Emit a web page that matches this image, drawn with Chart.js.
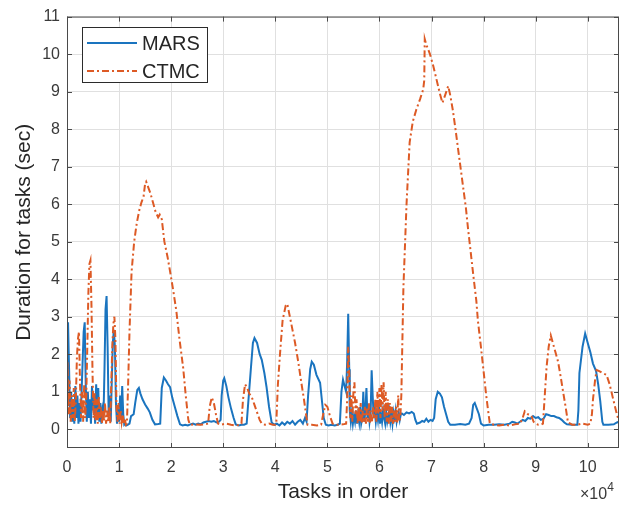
<!DOCTYPE html>
<html><head><meta charset="utf-8">
<script src="https://cdn.jsdelivr.net/npm/chart.js@4.4.0/dist/chart.umd.min.js"></script>
<style>html,body{margin:0;padding:0;background:#fff;}canvas{display:block}</style>
</head><body>
<canvas id="c" width="632" height="509"></canvas>
<script>
// x values are in units of 10^4 tasks
const xTicks = [0,1,2,3,4,5,6,7,8,9,10];
const yTicks = [0,1,2,3,4,5,6,7,8,9,10,11];
const seriesNames = ['MARS','CTMC'];
const xLabel = 'Tasks in order';
const yLabel = 'Duration for tasks (sec)';

const MARS = [
[0,0.6],[0.02,2.85],[0.04,1.6],[0.06,0.3],[0.08,1.0],[0.1,0.2],[0.12,0.8],[0.14,0.15],[0.16,1.15],[0.18,0.3],
[0.2,0.9],[0.22,0.15],[0.24,0.7],[0.26,0.2],[0.28,1.0],[0.3,1.8],[0.32,2.6],[0.34,2.85],[0.36,1.2],[0.38,0.2],
[0.4,1.0],[0.42,0.3],[0.44,0.8],[0.46,0.15],[0.48,1.15],[0.5,0.5],[0.52,0.9],[0.54,0.15],[0.56,1.2],[0.58,0.4],
[0.6,1.1],[0.62,0.2],[0.64,0.7],[0.66,0.15],[0.68,0.5],[0.7,0.3],[0.72,1.6],[0.74,3.2],[0.76,3.55],[0.78,2.2],
[0.8,0.4],[0.82,0.9],[0.84,0.2],[0.86,1.3],[0.88,2.3],[0.9,2.65],[0.92,2.2],[0.94,0.7],[0.96,0.15],[0.98,0.6],
[1.0,0.2],[1.02,0.9],[1.04,0.3],[1.06,1.15],[1.08,0.4],[1.1,0.12],[1.12,0.15],[1.14,0.1],[1.17,0.12],[1.2,0.15],
[1.23,0.35],[1.28,0.4],[1.31,0.7],[1.35,1.05],[1.38,1.1],[1.41,0.95],[1.45,0.8],[1.5,0.66],[1.55,0.55],[1.59,0.45],
[1.64,0.25],[1.69,0.13],[1.75,0.14],[1.79,0.15],[1.82,1.1],[1.86,1.38],[1.9,1.3],[1.94,1.2],[1.98,1.12],[2.02,0.85],
[2.07,0.6],[2.12,0.35],[2.17,0.13],[2.22,0.1],[2.27,0.12],[2.32,0.1],[2.37,0.13],[2.42,0.15],[2.47,0.12],[2.52,0.15],
[2.57,0.13],[2.62,0.18],[2.67,0.2],[2.72,0.22],[2.77,0.2],[2.82,0.22],[2.87,0.18],[2.92,0.2],[2.95,0.25],[2.97,0.9],
[3.0,1.3],[3.02,1.36],[3.06,1.15],[3.1,0.85],[3.15,0.55],[3.2,0.3],[3.24,0.13],[3.3,0.1],[3.35,0.12],[3.4,0.12],
[3.45,0.15],[3.48,0.7],[3.53,1.6],[3.57,2.3],[3.6,2.43],[3.65,2.3],[3.7,2.0],[3.74,1.85],[3.79,1.5],[3.83,1.14],
[3.88,0.6],[3.93,0.18],[3.98,0.12],[4.03,0.15],[4.08,0.1],[4.13,0.18],[4.18,0.12],[4.23,0.2],[4.28,0.15],[4.33,0.22],
[4.38,0.12],[4.43,0.2],[4.48,0.25],[4.53,0.15],[4.57,0.3],[4.6,0.2],[4.63,0.9],[4.67,1.6],[4.7,1.8],[4.74,1.72],
[4.79,1.45],[4.86,1.24],[4.9,0.7],[4.93,0.3],[4.97,0.12],[5.02,0.1],[5.08,0.12],[5.14,0.1],[5.2,0.12],[5.24,0.15],
[5.27,1.0],[5.3,1.32],[5.33,1.15],[5.36,1.0],[5.38,1.8],[5.4,3.08],[5.42,1.6],[5.43,0.5],
[5.45,0.2],[5.47,0.45],[5.49,0.15],[5.51,0.35],[5.53,0.2],[5.55,0.5],[5.57,0.15],[5.59,0.4],[5.61,0.2],[5.63,0.6],
[5.65,0.15],[5.67,0.3],[5.69,1.0],[5.71,0.2],[5.73,0.5],[5.75,1.1],[5.77,0.3],[5.79,0.6],[5.81,0.2],[5.83,0.4],
[5.85,1.57],[5.87,0.9],[5.89,0.3],[5.91,0.5],[5.93,0.2],[5.95,0.45],[5.97,0.25],[5.99,0.6],[6.01,0.15],[6.03,0.4],
[6.05,0.2],[6.07,0.5],[6.09,0.3],[6.11,0.15],[6.13,0.45],[6.15,0.2],[6.17,0.35],[6.19,0.5],[6.21,0.2],[6.23,0.4],
[6.25,0.15],[6.27,0.45],[6.29,0.3],[6.31,0.5],[6.33,0.2],[6.35,0.35],[6.37,0.45],[6.39,0.25],[6.41,0.4],[6.43,0.42],
[6.47,0.38],[6.52,0.45],[6.57,0.42],[6.62,0.46],[6.66,0.42],[6.69,0.25],[6.72,0.15],[6.78,0.18],[6.82,0.22],[6.86,0.2],
[6.9,0.28],[6.94,0.2],[6.98,0.25],[7.02,0.22],[7.05,0.3],[7.08,0.8],[7.12,1.0],[7.16,0.95],[7.2,0.85],[7.24,0.6],
[7.28,0.4],[7.32,0.2],[7.36,0.12],[7.45,0.12],[7.55,0.14],[7.65,0.12],[7.72,0.15],[7.77,0.3],[7.8,0.65],[7.83,0.7],
[7.87,0.55],[7.91,0.4],[7.95,0.15],[8.0,0.1],[8.1,0.12],[8.2,0.12],[8.3,0.13],[8.4,0.12],[8.5,0.15],[8.55,0.2],
[8.6,0.18],[8.65,0.15],[8.7,0.2],[8.75,0.25],[8.8,0.22],[8.85,0.3],[8.9,0.28],[8.95,0.35],[9.0,0.3],[9.05,0.32],
[9.1,0.25],[9.15,0.28],[9.2,0.4],[9.25,0.38],[9.3,0.35],[9.35,0.35],[9.4,0.32],[9.45,0.3],[9.5,0.25],[9.55,0.18],
[9.6,0.13],[9.7,0.12],[9.8,0.12],[9.82,0.5],[9.84,1.5],[9.9,2.2],[9.95,2.55],[10.0,2.3],[10.05,2.05],[10.1,1.75],
[10.16,1.55],[10.2,1.2],[10.24,0.75],[10.28,0.2],[10.3,0.12],[10.4,0.12],[10.5,0.13],[10.56,0.18],[10.6,0.2]
];

const CTMC = [
[0,0.8],[0.01,1.8],[0.03,0.4],[0.05,1.3],[0.07,0.2],[0.09,0.9],[0.11,0.3],[0.13,1.1],[0.15,0.2],[0.17,0.8],
[0.19,1.9],[0.21,2.4],[0.23,2.6],[0.25,1.2],[0.27,0.3],[0.29,1.0],[0.31,0.2],[0.33,1.2],[0.35,0.3],[0.37,0.9],
[0.39,2.2],[0.41,3.6],[0.43,4.4],[0.45,4.5],[0.47,3.3],[0.49,1.5],[0.51,0.3],[0.53,1.0],[0.55,0.2],[0.57,0.8],
[0.59,0.15],[0.61,0.9],[0.63,0.3],[0.65,0.6],[0.67,0.15],[0.69,0.5],[0.71,0.2],[0.73,0.7],[0.75,0.15],[0.77,0.5],
[0.79,0.2],[0.81,0.6],[0.83,0.15],[0.85,1.2],[0.87,2.2],[0.89,2.8],[0.91,3.0],[0.93,2.4],[0.95,0.6],[0.97,0.2],
[0.99,0.7],[1.01,0.15],[1.03,0.5],[1.05,0.2],[1.07,0.4],[1.09,0.15],[1.11,0.3],[1.13,0.12],[1.15,0.15],[1.17,1.0],
[1.2,2.6],[1.24,4.2],[1.29,5.0],[1.34,5.5],[1.39,5.85],[1.43,6.05],[1.47,6.2],[1.5,6.55],[1.52,6.6],[1.56,6.45],
[1.6,6.3],[1.65,6.05],[1.7,5.8],[1.75,5.65],[1.78,5.72],[1.82,5.6],[1.87,5.0],[1.93,4.6],[1.98,4.2],[2.04,3.7],
[2.1,3.15],[2.16,2.4],[2.23,1.65],[2.28,0.9],[2.33,0.25],[2.36,0.12],[2.45,0.13],[2.55,0.12],[2.65,0.13],[2.71,0.15],
[2.74,0.6],[2.78,0.85],[2.82,0.7],[2.86,0.4],[2.9,0.15],[2.95,0.12],[3.05,0.15],[3.15,0.12],[3.25,0.1],[3.32,0.12],
[3.35,0.15],[3.38,0.8],[3.42,1.2],[3.46,1.1],[3.5,0.95],[3.55,0.85],[3.6,0.65],[3.65,0.45],[3.7,0.25],[3.74,0.15],
[3.8,0.12],[3.88,0.15],[3.95,0.12],[4.0,0.12],[4.02,0.2],[4.05,1.2],[4.09,2.0],[4.14,2.9],[4.2,3.3],[4.23,3.34],
[4.28,3.0],[4.33,2.65],[4.38,2.3],[4.44,1.8],[4.5,1.24],[4.55,0.8],[4.6,0.3],[4.62,0.12],[4.7,0.12],[4.8,0.1],
[4.88,0.12],[4.92,0.4],[4.96,0.65],[5.0,0.6],[5.05,0.35],[5.1,0.15],[5.2,0.12],[5.3,0.13],[5.36,0.15],[5.38,0.8],
[5.4,2.2],[5.42,1.5],[5.44,0.3],[5.46,0.9],[5.48,0.2],[5.5,1.0],[5.52,1.25],[5.54,0.4],[5.56,0.8],[5.58,0.15],
[5.6,0.6],[5.62,0.2],[5.64,0.7],[5.66,0.15],[5.68,0.5],[5.7,0.2],[5.72,0.6],[5.74,0.15],[5.76,0.55],[5.78,0.2],
[5.8,0.7],[5.82,0.15],[5.84,0.5],[5.86,0.2],[5.88,0.6],[5.9,0.3],[5.92,0.8],[5.94,0.2],[5.96,1.0],[5.98,0.4],
[6.0,1.1],[6.02,0.3],[6.04,1.2],[6.06,0.5],[6.08,1.25],[6.1,0.3],[6.12,1.0],[6.14,0.2],[6.16,0.8],[6.18,0.15],
[6.2,0.7],[6.22,0.2],[6.24,0.6],[6.26,0.15],[6.28,0.5],[6.3,0.2],[6.32,0.6],[6.34,0.15],[6.36,0.9],[6.38,0.2],
[6.4,0.3],[6.42,0.9],[6.46,3.78],[6.52,6.0],[6.58,7.65],[6.64,8.2],[6.71,8.53],[6.78,8.8],[6.84,9.06],[6.86,9.3],
[6.87,10.4],[6.9,10.25],[6.97,10.0],[7.03,9.7],[7.1,9.3],[7.16,8.95],[7.21,8.7],[7.26,8.9],[7.32,9.15],[7.36,8.9],
[7.41,8.5],[7.46,8.0],[7.51,7.47],[7.56,6.95],[7.61,6.42],[7.66,5.9],[7.7,5.36],[7.75,4.75],[7.8,4.13],[7.86,3.43],
[7.89,2.9],[7.94,2.3],[7.99,1.67],[8.05,0.9],[8.1,0.35],[8.12,0.15],[8.2,0.12],[8.3,0.1],[8.4,0.12],[8.5,0.1],
[8.6,0.13],[8.7,0.15],[8.75,0.3],[8.79,0.48],[8.85,0.4],[8.92,0.35],[8.96,0.2],[9.0,0.15],[9.05,0.12],[9.1,0.12],
[9.14,0.15],[9.17,0.8],[9.21,1.67],[9.25,2.2],[9.29,2.5],[9.33,2.3],[9.38,2.05],[9.43,1.8],[9.48,1.4],[9.53,0.97],
[9.58,0.55],[9.62,0.18],[9.7,0.12],[9.8,0.12],[9.9,0.15],[10.0,0.12],[10.05,0.15],[10.08,0.4],[10.1,0.79],[10.14,1.3],
[10.17,1.58],[10.22,1.55],[10.28,1.5],[10.36,1.45],[10.42,1.2],[10.48,0.85],[10.55,0.45],[10.6,0.2]
];

const BLUE = '#1a74bf';
const ORANGE = '#dd5a25';
const AXIS = '#4a4a4a';
const TEXT = '#3a3a3a';
const FONT = "'Liberation Sans', Arial, Helvetica, sans-serif";

const boxPlugin = {
  id: 'box',
  afterDraw(chart) {
    const {ctx, chartArea: a, scales: {x, y}} = chart;
    ctx.save();
    ctx.strokeStyle = AXIS;
    ctx.lineWidth = 1;
    ctx.strokeRect(a.left + 0.5, a.top + 0.5, a.right - a.left - 1, a.bottom - a.top - 1);
    ctx.beginPath();
    xTicks.forEach(v => {
      const px = Math.round(x.getPixelForValue(v)) + 0.5;
      ctx.moveTo(px, a.bottom); ctx.lineTo(px, a.bottom - 5);
      ctx.moveTo(px, a.top); ctx.lineTo(px, a.top + 5);
    });
    yTicks.forEach(v => {
      const py = Math.round(y.getPixelForValue(v)) + 0.5;
      ctx.moveTo(a.left, py); ctx.lineTo(a.left + 5, py);
      ctx.moveTo(a.right, py); ctx.lineTo(a.right - 5, py);
    });
    ctx.stroke();

    // legend
    const lx = 82, ly = 27, lw = 125, lh = 55;
    ctx.fillStyle = '#fff';
    ctx.fillRect(lx, ly, lw, lh);
    ctx.strokeStyle = '#2b2b2b';
    ctx.strokeRect(lx + 0.5, ly + 0.5, lw, lh);
    const rows = [{c: BLUE, d: [], y: 43}, {c: ORANGE, d: [7, 3, 2, 3], y: 71}];
    rows.forEach((r, i) => {
      ctx.beginPath();
      ctx.strokeStyle = r.c; ctx.lineWidth = 2; ctx.setLineDash(r.d);
      ctx.moveTo(87, r.y); ctx.lineTo(137, r.y); ctx.stroke();
      ctx.setLineDash([]);
      ctx.fillStyle = '#262626';
      ctx.font = '20px ' + FONT;
      ctx.textBaseline = 'middle';
      ctx.textAlign = 'left';
      ctx.fillText(seriesNames[i], 142, r.y + 1);
    });

    // exponent label
    ctx.fillStyle = TEXT;
    ctx.textBaseline = 'alphabetic';
    ctx.font = '16px ' + FONT;
    ctx.fillText('\u00d710', 580, 499);
    const w = ctx.measureText('\u00d710').width;
    ctx.font = '12px ' + FONT;
    ctx.fillText('4', 580 + w, 491);
    ctx.restore();
  }
};

new Chart(document.getElementById('c'), {
  type: 'line',
  data: {
    datasets: [
      {label: seriesNames[0], data: MARS.map(p => ({x: p[0], y: p[1]})), borderColor: BLUE, borderWidth: 2, pointRadius: 0, tension: 0, order: 1, fill: false},
      {label: seriesNames[1], data: CTMC.map(p => ({x: p[0], y: p[1]})), borderColor: ORANGE, borderWidth: 2, borderDash: [7, 3, 2, 3], pointRadius: 0, tension: 0, order: 0, fill: false}
    ]
  },
  options: {
    responsive: false,
    animation: false,
    devicePixelRatio: 1,
    layout: {padding: {top: 13, right: 13, left: 0, bottom: 0}},
    plugins: {legend: {display: false}, tooltip: {enabled: false}},
    scales: {
      x: {
        type: 'linear', min: 0, max: 10.6,
        afterBuildTicks: s => { s.ticks = xTicks.map(v => ({value: v})); },
        afterFit: s => { s.height = 61; },
        grid: {color: '#e0e0e0', drawTicks: false, lineWidth: 1},
        border: {display: false},
        ticks: {autoSkip: false, maxRotation: 0, padding: 10, color: TEXT, font: {family: FONT, size: 16}, callback: v => String(v)},
        title: {display: true, text: xLabel, color: '#262626', font: {family: FONT, size: 21}, padding: {top: 0, bottom: 4}}
      },
      y: {
        type: 'linear', min: -0.5, max: 11,
        afterBuildTicks: s => { s.ticks = yTicks.map(v => ({value: v})); },
        afterFit: s => { s.width = 67; },
        grid: {color: '#e0e0e0', drawTicks: false, lineWidth: 1},
        border: {display: false},
        ticks: {autoSkip: false, padding: 7, color: TEXT, font: {family: FONT, size: 16}, callback: v => String(v)},
        title: {display: true, text: yLabel, color: '#262626', font: {family: FONT, size: 21}, padding: {top: 12, bottom: 0}}
      }
    }
  },
  plugins: [boxPlugin]
});
</script>
</body></html>
